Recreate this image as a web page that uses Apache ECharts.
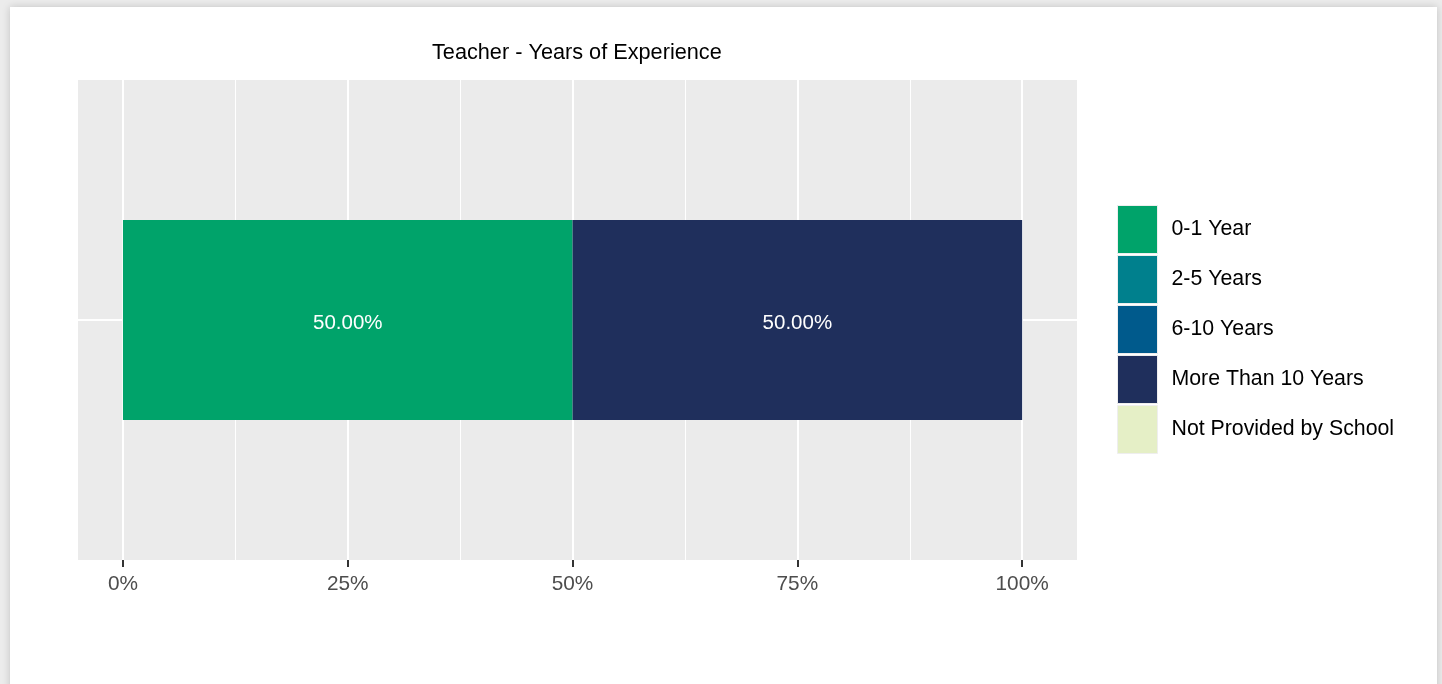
<!DOCTYPE html>
<html>
<head>
<meta charset="utf-8">
<script src="https://cdn.jsdelivr.net/npm/echarts@6/dist/echarts.min.js"></script>
<style>
  html, body { margin: 0; padding: 0; width: 1442px; height: 684px; background: #ececec; overflow: hidden; }
  .card {
    position: absolute; left: 10px; top: 7px; width: 1427px; height: 700px;
    background: #fff; box-shadow: 0 0 8px rgba(0, 0, 0, 0.18);
  }
  #chart { position: absolute; left: 0; top: 0; width: 1442px; height: 684px; }
</style>
</head>
<body>
<div class="card"></div>
<div id="chart"></div>
<script>
// 数据
var categories = ["Teacher"];
var seriesNames = ["0-1 Year", "2-5 Years", "6-10 Years", "More Than 10 Years", "Not Provided by School"];
var seriesValues = [[50], [0], [0], [50], [0]];
var seriesColors = ["#00A36A", "#00808D", "#005A8C", "#1F2F5C", "#E5EFC6"];
var majorTicks = [0, 25, 50, 75, 100];
var minorTicks = [12.5, 37.5, 62.5, 87.5];

var chart = echarts.init(document.getElementById("chart"));

// 网格线用markLine画，放在柱子下面
var gridLines = [];
minorTicks.forEach(function (v) {
  gridLines.push({ xAxis: v, lineStyle: { width: 1 } });
});
majorTicks.forEach(function (v) {
  gridLines.push({ xAxis: v, lineStyle: { width: 2 } });
});
gridLines.push({ yAxis: 0, lineStyle: { width: 2 } });

var series = seriesNames.map(function (name, i) {
  var s = {
    name: name,
    type: "bar",
    stack: "total",
    barWidth: 200,
    data: seriesValues[i],
    itemStyle: { color: seriesColors[i] },
    label: {
      show: true,
      position: "inside",
      offset: [0, 3],
      color: "#ffffff",
      fontSize: 20.5,
      fontFamily: "Liberation Sans",
      formatter: function (p) {
        return p.value > 0 ? p.value.toFixed(2) + "%" : "";
      }
    },
    z: 2
  };
  if (i === 0) {
    s.markLine = {
      silent: true,
      symbol: "none",
      z: 1,
      label: { show: false },
      lineStyle: { color: "#ffffff", type: "solid" },
      data: gridLines
    };
  }
  return s;
});

var option = {
  animation: false,
  title: {
    text: "Teacher - Years of Experience",
    left: 432,
    top: 42,
    padding: 0,
    textStyle: { color: "#000000", fontSize: 21.7, fontWeight: "normal", fontFamily: "Liberation Sans" }
  },
  legend: {
    orient: "vertical",
    left: 1117,
    top: 205,
    padding: 0,
    icon: "rect",
    itemWidth: 40,
    itemHeight: 48,
    itemGap: 1,
    data: seriesNames,
    itemStyle: { borderColor: "#EEEEEE", borderWidth: 1 },
    textStyle: { fontSize: 21.3, color: "#000000", fontFamily: "Liberation Sans", padding: [0, 0, 0, 9] }
  },
  grid: {
    left: 78,
    right: 365,
    top: 80,
    bottom: 124,
    show: true,
    backgroundColor: "#EBEBEB",
    borderWidth: 0,
    containLabel: false
  },
  xAxis: {
    type: "value",
    min: -5,
    max: 106.1,
    splitLine: { show: false },
    axisLine: { show: false },
    axisTick: {
      show: true,
      length: 7,
      customValues: majorTicks,
      lineStyle: { color: "#333333", width: 2 }
    },
    axisLabel: {
      customValues: majorTicks,
      margin: 14,
      color: "#4D4D4D",
      fontSize: 20.8,
      fontFamily: "Liberation Sans",
      formatter: function (v) { return v + "%"; }
    }
  },
  yAxis: {
    type: "category",
    data: categories,
    axisLine: { show: false },
    axisTick: { show: false },
    axisLabel: { show: false },
    splitLine: { show: false }
  },
  series: series
};

chart.setOption(option);
</script>
</body>
</html>
